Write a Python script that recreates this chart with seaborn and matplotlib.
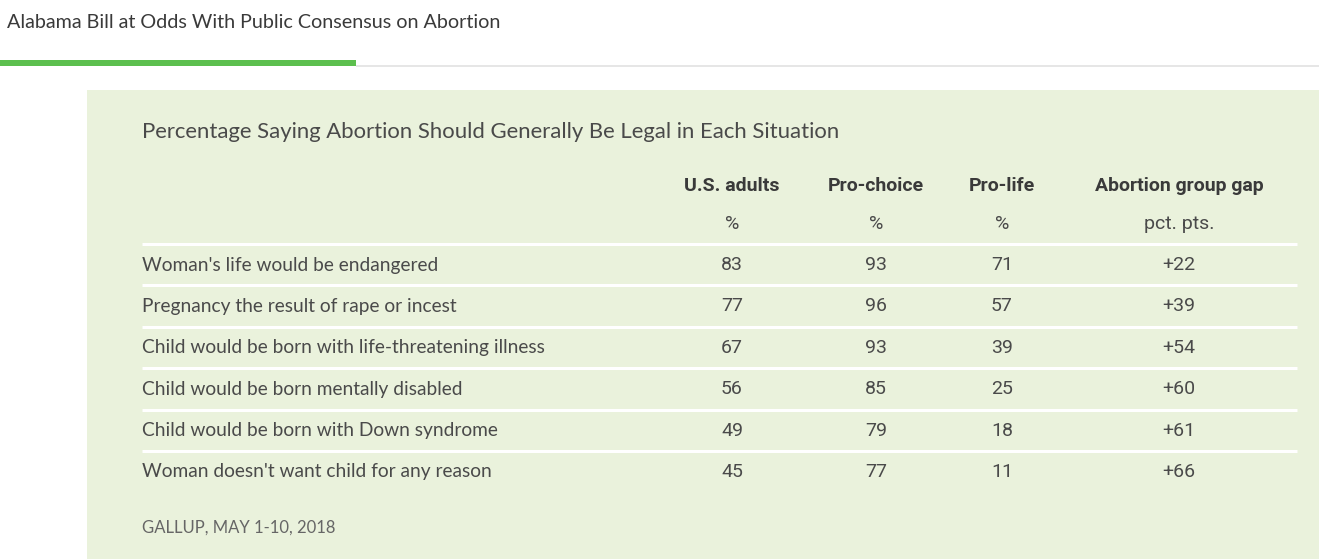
import matplotlib
matplotlib.use("Agg")
import matplotlib.pyplot as plt
import seaborn as sns
from matplotlib.patches import Rectangle

# Table data
situations = [
    "Woman's life would be endangered",
    "Pregnancy the result of rape or incest",
    "Child would be born with life-threatening illness",
    "Child would be born mentally disabled",
    "Child would be born with Down syndrome",
    "Woman doesn't want child for any reason",
]
us_adults = [83, 77, 67, 56, 49, 45]
pro_choice = [93, 96, 93, 85, 79, 77]
pro_life = [71, 57, 39, 25, 18, 11]
group_gap = [22, 39, 54, 60, 61, 66]

col_headers = ["U.S. adults", "Pro-choice", "Pro-life", "Abortion group gap"]
col_units = ["%", "%", "%", "pct. pts."]

page_title = "Alabama Bill at Odds With Public Consensus on Abortion"
chart_title = "Percentage Saying Abortion Should Generally Be Legal in Each Situation"
source_note = "GALLUP, MAY 1-10, 2018"

sns.set_theme(style="white")
plt.rcParams["font.family"] = ["Lato", "DejaVu Sans"]

W, H = 1319, 559
fig = plt.figure(figsize=(W / 100, H / 100), dpi=100)
ax = fig.add_axes([0, 0, 1, 1])
ax.set_xlim(0, W)
ax.set_ylim(H, 0)
ax.axis("off")

panel_bg = "#eaf2dc"
text_dark = "#3a3a3a"
text_body = "#4a4a4a"
num_font = ["Roboto", "DejaVu Sans"]

# page header
ax.text(7, 22, page_title, fontsize=14.2, color=text_dark, va="center", ha="left")
ax.add_patch(Rectangle((356, 65), W - 356, 2, color="#e6e6e6", lw=0))
ax.add_patch(Rectangle((0, 60), 356, 6, color="#5cbf4e", lw=0))

# panel
ax.add_patch(Rectangle((87, 90), W - 87, H - 90, color=panel_bg, lw=0))
ax.text(142, 132, chart_title, fontsize=15.9, color=text_body, va="center", ha="left")

col_x = [732, 876, 1002, 1179]
for x, hdr, unit in zip(col_x, col_headers, col_units):
    ax.text(x, 186, hdr, fontsize=14, fontweight="bold", color=text_dark,
            va="center", ha="center", family=num_font)
    ax.text(x, 224, unit, fontsize=14, color=text_body, va="center", ha="center",
            family=num_font)

row0, step = 265, 41.4
for i, label in enumerate(situations):
    y = row0 + i * step
    ax.plot([142, 1297], [y - 21, y - 21], color="white", lw=2.2, solid_capstyle="butt")
    ax.text(142, y, label, fontsize=13.8, color=text_body, va="center", ha="left")
    values = [str(us_adults[i]), str(pro_choice[i]), str(pro_life[i]), f"+{group_gap[i]}"]
    for x, v in zip(col_x, values):
        ax.text(x, y, v, fontsize=14, color=text_body, va="center", ha="center",
                family=num_font)

ax.text(142, 528, source_note, fontsize=12, color="#666666", va="center", ha="left")

fig.savefig("out.png", dpi=100, facecolor="white")
